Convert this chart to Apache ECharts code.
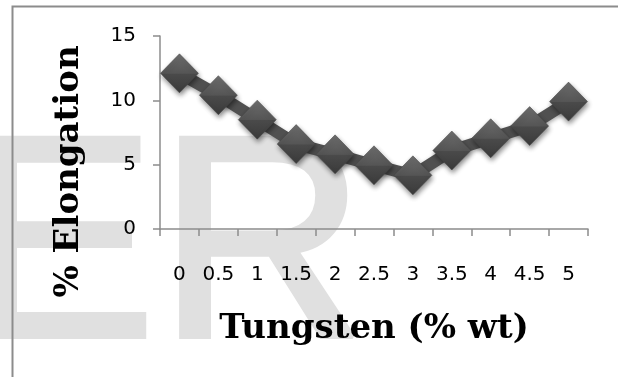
<!DOCTYPE html>
<html>
<head>
<meta charset="utf-8">
<script src="https://cdn.jsdelivr.net/npm/echarts@6/dist/echarts.min.js"></script>
<style>
html,body{margin:0;padding:0;background:#fff;}
#chart{width:618px;height:377px;}
</style>
</head>
<body>
<div id="chart"></div>
<script>
// Data
var tungsten = ['0', '0.5', '1', '1.5', '2', '2.5', '3', '3.5', '4', '4.5', '5'];
var elongation = [12.1, 10.4, 8.5, 6.6, 5.8, 4.95, 4.17, 6.1, 7.05, 8.0, 9.9];
var yTicks = [0, 5, 10, 15];
var xTitle = 'Tungsten (% wt)';
var yTitle = '% Elongation';

var chart = echarts.init(document.getElementById('chart'), null, {renderer: 'canvas'});
var axisGray = '#8c8c8c';
chart.setOption({
  animation: false,
  backgroundColor: '#ffffff',
  graphic: [
    {type: 'text', z: -10, x: -36, y: 257,
     style: {text: 'E', font: '288px "Liberation Sans"', fill: '#e0e0e0', stroke: '#e0e0e0', lineWidth: 5, textVerticalAlign: 'middle', textAlign: 'left'}},
    {type: 'text', z: -10, x: 158, y: 257,
     style: {text: 'R', font: '288px "Liberation Sans"', fill: '#e0e0e0', stroke: '#e0e0e0', lineWidth: 5, textVerticalAlign: 'middle', textAlign: 'left'}},
    {type: 'rect', z: 100, shape: {x: 12.5, y: 6.5, width: 800, height: 600},
     style: {fill: 'none', stroke: '#8c8c8c', lineWidth: 2}}
  ],
  grid: {left: 160, right: 30, top: 36, bottom: 148, containLabel: false},
  xAxis: {
    type: 'category',
    data: tungsten,
    boundaryGap: true,
    name: xTitle,
    nameLocation: 'middle',
    nameGap: 83,
    nameTextStyle: {fontFamily: '"DejaVu Serif"', fontWeight: 'bold', fontSize: 34, color: '#000'},
    axisLine: {lineStyle: {color: axisGray, width: 1.5}},
    axisTick: {show: true, length: 7, interval: 0, lineStyle: {color: axisGray, width: 1.5}},
    axisLabel: {interval: 0, margin: 36, fontFamily: '"DejaVu Sans"', fontSize: 20, color: '#000'},
    splitLine: {show: false}
  },
  yAxis: {
    type: 'value',
    min: 0, max: 15, interval: 5,
    name: yTitle,
    nameLocation: 'middle',
    nameGap: 74,
    nameRotate: 90,
    nameTextStyle: {fontFamily: '"DejaVu Serif"', fontWeight: 'bold', fontSize: 34, color: '#000', padding: [0, 78, 0, 0]},
    axisLine: {show: true, lineStyle: {color: axisGray, width: 1.5}},
    axisTick: {show: true, length: 7, lineStyle: {color: axisGray, width: 1.5}},
    axisLabel: {margin: 24, fontFamily: '"DejaVu Sans"', fontSize: 20, color: '#000',
      formatter: function (v) { return yTicks.indexOf(v) >= 0 ? String(v) : ''; }},
    splitLine: {show: false}
  },
  series: [{
    type: 'line',
    data: elongation,
    symbol: 'diamond',
    symbolSize: [38, 39],
    lineStyle: {color: '#505050', width: 12, shadowColor: 'rgba(0,0,0,0.35)', shadowBlur: 4, shadowOffsetY: 2},
    itemStyle: {
      color: new echarts.graphic.LinearGradient(0, 0, 0, 1, [
        {offset: 0, color: '#6e6e6e'},
        {offset: 0.5, color: '#555555'},
        {offset: 0.52, color: '#4a4a4a'},
        {offset: 1, color: '#3a3a3a'}
      ]),
      borderColor: '#444',
      borderWidth: 0.5,
      shadowColor: 'rgba(0,0,0,0.45)', shadowBlur: 5, shadowOffsetX: 1, shadowOffsetY: 3
    },
    emphasis: {disabled: true}
  }]
});
</script>
</body>
</html>
